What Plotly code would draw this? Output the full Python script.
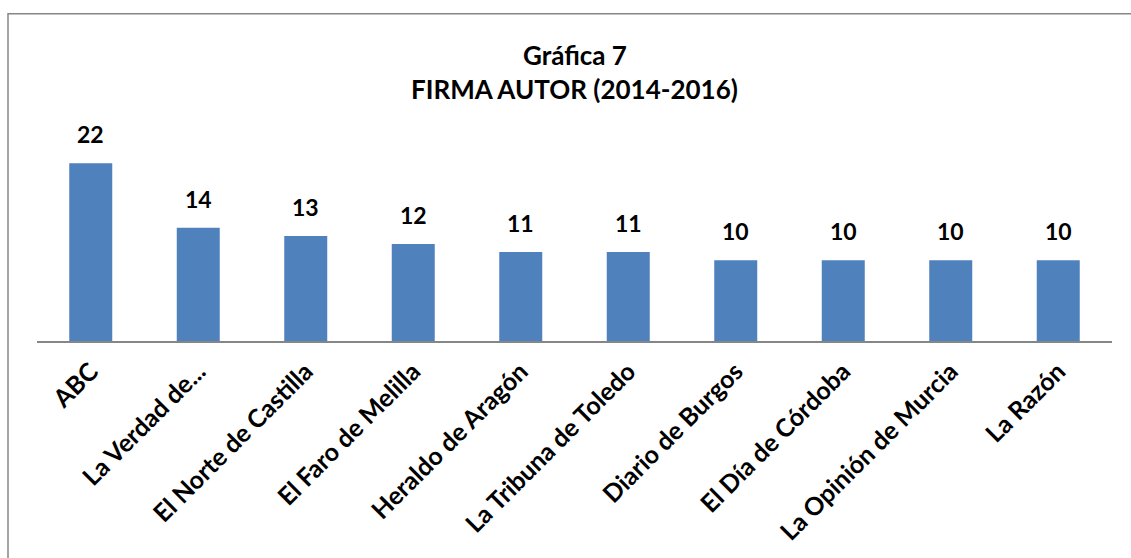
import plotly.graph_objects as go

categories = ["ABC", "La Verdad de...", "El Norte de Castilla", "El Faro de Melilla",
              "Heraldo de Aragón", "La Tribuna de Toledo", "Diario de Burgos",
              "El Día de Córdoba", "La Opinión de Murcia", "La Razón"]
values = [22, 14, 13, 12, 11, 11, 10, 10, 10, 10]
title_line1 = "Gráfica 7"
title_line2 = "FIRMA AUTOR (2014-2016)"

W, H = 1131, 558
L, R, B = 37, 19, 217
YMAX = 24
plot_h = YMAX * 8.1
T = H - B - plot_h

FONT = "Lato"

fig = go.Figure(go.Bar(
    x=categories, y=values,
    marker=dict(color="#4F81BD", line=dict(width=0)),
    hoverinfo="x+y",
))

annotations = []
for c, v in zip(categories, values):
    annotations.append(dict(
        x=c, y=v, xref="x", yref="y", text=f"<b>{v}</b>", showarrow=False,
        yanchor="bottom", yshift=13,
        font=dict(family=FONT, size=23, color="black"),
    ))

def py(px):
    return (H - B - px) / plot_h

def pxx(px):
    return (px - L) / (W - L - R)

annotations.append(dict(x=0.5, y=py(54), xref="paper", yref="paper",
                        text=f"<b>{title_line1}</b>", showarrow=False,
                        yanchor="middle", font=dict(family=FONT, size=26, color="black")))
annotations.append(dict(x=0.5, y=py(88), xref="paper", yref="paper",
                        text=f"<b>{title_line2}</b>", showarrow=False,
                        yanchor="middle", font=dict(family=FONT, size=26, color="black")))

fig.update_layout(
    width=W, height=H,
    margin=dict(l=L, r=R, t=T, b=B, autoexpand=False),
    paper_bgcolor="white", plot_bgcolor="white",
    bargap=0.6,
    showlegend=False,
    annotations=annotations,
    shapes=[dict(type="rect", xref="paper", yref="paper",
                 x0=pxx(8), x1=pxx(1160), y0=py(600), y1=py(13),
                 line=dict(color="#868686", width=1.5), fillcolor="rgba(0,0,0,0)",
                 layer="below")],
    xaxis=dict(
        tickangle=-45, showgrid=False, ticks="", showline=True,
        linecolor="#868686", linewidth=2,
        tickfont=dict(family=FONT, size=25, color="black", weight="bold"),
        ticklabelstandoff=4,
    ),
    yaxis=dict(range=[0, YMAX], visible=False, showgrid=False, zeroline=False),
)

fig.write_html("out.html", config={"displayModeBar": False},
               post_script="document.body.style.margin='0';document.body.style.overflow='hidden';")
